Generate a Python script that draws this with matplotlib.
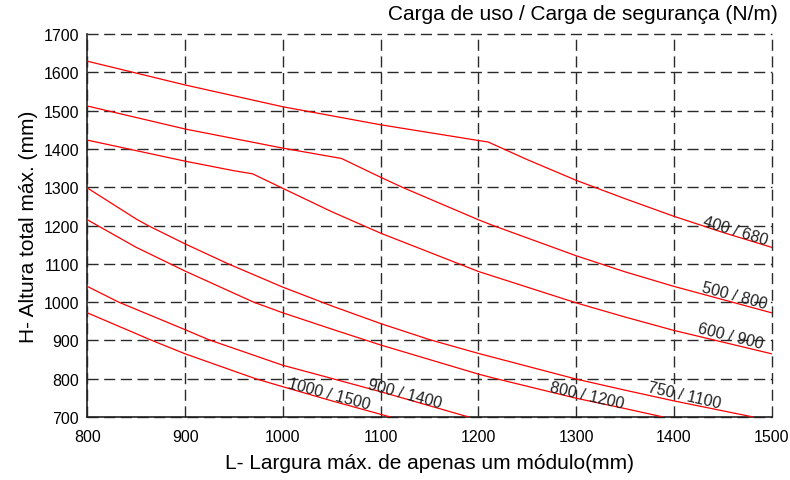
import matplotlib.pyplot as plt

plt.rcParams['font.family'] = ['Liberation Sans', 'DejaVu Sans']

# curvas: largura L (mm) -> altura H (mm)
x_400 = [800, 900, 1000, 1100, 1200, 1210, 1250, 1300, 1350, 1400, 1450, 1500]
h_400 = [1629, 1567, 1510, 1463, 1422, 1418, 1372, 1318, 1270, 1224, 1182, 1143]

x_500 = [800, 900, 1000, 1060, 1100, 1122, 1200, 1215, 1300, 1350, 1400, 1500]
h_500 = [1512, 1452, 1402, 1375, 1326, 1300, 1215, 1200, 1121, 1079, 1041, 972]

x_600 = [800, 900, 950, 969, 1000, 1050, 1100, 1200, 1300, 1350, 1400, 1500]
h_600 = [1423, 1368, 1343, 1335, 1297, 1236, 1180, 1080, 998, 961, 926, 865]

x_750 = [800, 850, 862, 900, 944, 1000, 1050, 1100, 1150, 1200, 1300, 1350, 1400, 1481]
h_750 = [1298, 1217, 1200, 1152, 1100, 1039, 990, 944, 902, 866, 799, 770, 742, 700]

x_800 = [800, 850, 900, 970, 1000, 1053, 1100, 1200, 1215, 1300, 1350, 1389]
h_800 = [1215, 1143, 1081, 1000, 972, 927, 888, 812, 802, 749, 722, 700]

x_900 = [800, 832, 900, 924, 1000, 1051, 1100, 1190]
h_900 = [1041, 1000, 928, 902, 835, 800, 766, 700]

x_1000 = [800, 866, 900, 972, 1000, 1053, 1110]
h_1000 = [972, 900, 865, 800, 779, 740, 700]

curvas = [(x_400, h_400), (x_500, h_500), (x_600, h_600), (x_750, h_750),
          (x_800, h_800), (x_900, h_900), (x_1000, h_1000)]

rotulos = ['400 / 680', '500 / 800', '600 / 900', '750 / 1100',
           '800 / 1200', '900 / 1400', '1000 / 1500']
pos_rotulos = [(1463, 1187), (1462, 1017), (1458, 911), (1411, 757),
               (1311, 758), (1125, 761), (1047, 761)]
ang_rotulos = [-17, -15, -14, -13, -13, -15, -15]

xticks = [800, 900, 1000, 1100, 1200, 1300, 1400, 1500]
yticks = [700, 800, 900, 1000, 1100, 1200, 1300, 1400, 1500, 1600, 1700]

fig = plt.figure(figsize=(7.9, 4.81), dpi=100)
ax = fig.add_axes([0.1105, 0.131, 0.8663, 0.7962])

for xs, hs in curvas:
    ax.plot(xs, hs, color='red', linewidth=0.9, zorder=3)

for txt, (px, py), ang in zip(rotulos, pos_rotulos, ang_rotulos):
    ax.text(px, py, txt, rotation=ang, fontsize=11.5, color='#222',
            ha='center', va='center', rotation_mode='anchor', zorder=4)

ax.set_xlim(800, 1500)
ax.set_ylim(700, 1700)
ax.set_xticks(xticks)
ax.set_yticks(yticks)
ax.tick_params(length=0, labelsize=11.5)
ax.tick_params(axis='x', pad=9)
ax.tick_params(axis='y', pad=6)
ax.grid(True, color='#2a2a2a', linestyle=(0, (8, 4)), linewidth=1.0, clip_on=False)
ax.set_axisbelow(True)

ax.spines['top'].set_visible(False)
ax.spines['right'].set_visible(False)
ax.spines['left'].set_linewidth(1.2)
ax.spines['bottom'].set_linewidth(1.2)
ax.spines['left'].set_color('#222')
ax.spines['bottom'].set_color('#222')

ax.set_xlabel('L- Largura máx. de apenas um módulo(mm)', fontsize=15, labelpad=6)
ax.set_ylabel('H- Altura total máx. (mm)', fontsize=15, labelpad=4)

fig.text(778 / 790, 1 - 15 / 481, 'Carga de uso / Carga de segurança (N/m)',
         fontsize=15, ha='right', va='center')

fig.savefig('out.png', dpi=100)
